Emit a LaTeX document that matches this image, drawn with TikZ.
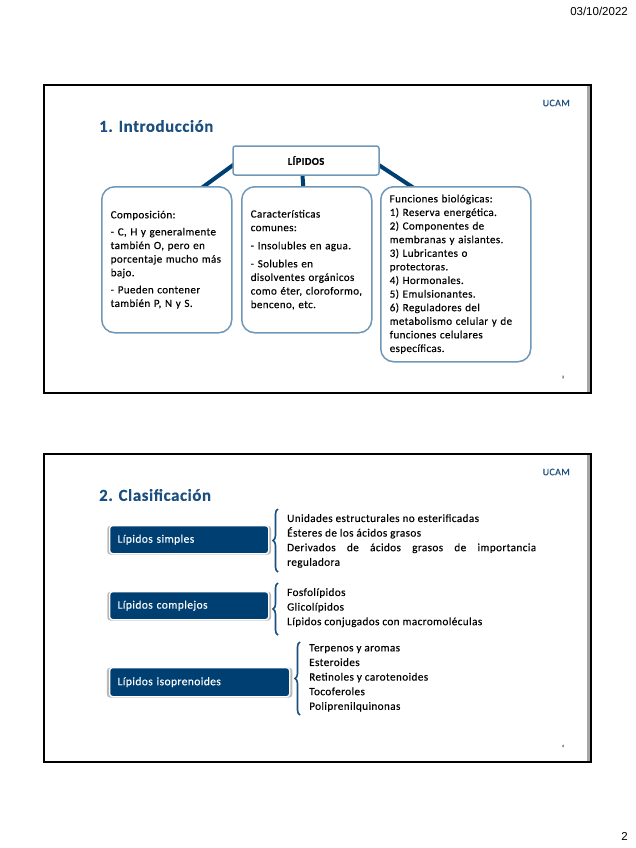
\documentclass[tikz,border=0pt]{standalone}
\usepackage{fontspec}
\setmainfont{Carlito}[LetterSpace=3.5, FakeBold=0.25]
\newfontfamily\datefont{Liberation Sans}
\usetikzlibrary{decorations.pathreplacing,shadows,backgrounds}
\definecolor{ucamblue}{HTML}{1B4F80}
\definecolor{boxblue}{HTML}{003F72}
\definecolor{boxline}{HTML}{6F97B8}
\tikzset{
	titletext/.style={anchor=west, inner sep=0pt, text=ucamblue, font=\fontsize{16.8}{18}\selectfont\bfseries},
	logotext/.style={anchor=east, inner sep=0pt, text=ucamblue, font=\fontsize{10}{10}\selectfont},
	pagetext/.style={inner sep=0pt, text=gray, font=\fontsize{4}{4}\selectfont},
	infobox/.style={draw=boxline, line width=1.5pt, fill=white, rounded corners=13pt, anchor=north west, align=left, inner xsep=9pt, inner ysep=0pt, font=\fontsize{11}{13.6}\selectfont},
	lipbox/.style={draw=boxline, line width=1.5pt, fill=white, rounded corners=2.5pt, font=\fontsize{10.5}{12}\selectfont\bfseries},
	classbox/.style={fill=boxblue, draw=white, line width=1.3pt, rounded corners=3pt, anchor=north west, align=left, inner xsep=8pt, inner ysep=0pt, text=white, font=\fontsize{11.5}{12}\selectfont, drop shadow={shadow scale=1.03, shadow xshift=0pt, shadow yshift=-0.5pt, opacity=0.45, fill=black!60}},
	listtext/.style={anchor=north west, align=left, inner sep=0pt, font=\fontsize{11.2}{14.6}\selectfont},
	linkline/.style={draw=boxblue, line width=4pt, shorten >=-4pt, shorten <=-4pt},
	bracket/.style={draw=ucamblue, line width=1.6pt, decorate, decoration={brace, amplitude=5pt}},
	slideframe/.style={draw=black, line width=1.6pt}
}
\begin{document}
\begin{tikzpicture}[x=1pt, y=-1pt]
	\useasboundingbox (0,0) rectangle (636,848);
	\node[anchor=east, inner sep=0pt, font=\datefont\fontsize{11.5}{14}\selectfont] (date) at (628,11) {03/10/2022};
	\node[anchor=east, inner sep=0pt, font=\datefont\fontsize{11.5}{14}\selectfont] (pagenum) at (628,836) {2};

	\fill[gray!70] (587,85) rectangle (592,393);
	\draw[slideframe] (44,85) rectangle (591,393);
	\node[titletext] (titleA) at (99,126) {1. Introducción};
	\node[logotext] (logoA) at (570,103) {UCAM};
	\node[pagetext] (slideA) at (563,377) {3};

	\node[lipbox, minimum width=146pt, minimum height=29pt] (lipidos) at (306,160.5) {LÍPIDOS};
	\node[infobox, minimum width=130pt, minimum height=146pt, text width=112pt] (comp) at (101,186) {Composición:\\[3.5pt]- C, H y generalmente\\también O, pero en\\porcentaje mucho más\\bajo.\\[3.5pt]- Pueden contener\\también P, N y S.};
	\node[infobox, minimum width=130pt, minimum height=146pt, text width=112pt] (carac) at (241,186) {Características\\comunes:\\[4.5pt]- Insolubles en agua.\\[4.5pt]- Solubles en\\disolventes orgánicos\\como éter, cloroformo,\\benceno, etc.};
	\node[infobox, minimum width=150pt, minimum height=175pt, text width=132pt] (func) at (380,186) {Funciones biológicas:\\1) Reserva energética.\\2) Componentes de\\membranas y aislantes.\\3) Lubricantes o\\protectoras.\\4) Hormonales.\\5) Emulsionantes.\\6) Reguladores del\\metabolismo celular y de\\funciones celulares\\específicas.};
	\begin{scope}[on background layer]
		\fill[white] (0,0) rectangle (636,848);
		\draw[linkline] (lipidos.184) -- (comp.63);
		\draw[linkline] ([xshift=-3.5pt]lipidos.south) -- ([xshift=-3.5pt]carac.north);
		\draw[linkline] (lipidos.-4) -- (func.117);
	\end{scope}

	\fill[gray!70] (587,454) rectangle (592,762);
	\draw[slideframe] (44,454) rectangle (591,762);
	\node[titletext] (titleB) at (99,495) {2. Clasificación};
	\node[logotext] (logoB) at (570,472) {UCAM};
	\node[pagetext] (slideB) at (563,746) {4};

	\node[classbox, minimum height=28pt, text width=143pt] (simples) at (109,525) {Lípidos simples};
	\node[classbox, minimum height=28pt, text width=143pt] (complejos) at (109,591) {Lípidos complejos};
	\node[classbox, minimum height=29pt, text width=164pt] (isopren) at (109,667) {Lípidos isoprenoides};

	\node[listtext] (listA) at (287,514) {Unidades estructurales no esterificadas\\Ésteres de los ácidos grasos\\\makebox[249pt][s]{Derivados de ácidos grasos de importancia}\\reguladora};
	\node[listtext] (listB) at (287,588) {Fosfolípidos\\Glicolípidos\\Lípidos conjugados con macromoléculas};
	\node[listtext] (listC) at (309,644) {Terpenos y aromas\\Esteroides\\Retinoles y carotenoides\\Tocoferoles\\Poliprenilquinonas};

	\coordinate (braceAtop) at (278,509);
	\coordinate (braceAbot) at (278,572);
	\coordinate (braceBtop) at (278,583);
	\coordinate (braceBbot) at (278,635);
	\coordinate (braceCtop) at (300,642);
	\coordinate (braceCbot) at (300,715);
	\draw[bracket] (braceAbot) -- (braceAtop);
	\draw[bracket] (braceBbot) -- (braceBtop);
	\draw[bracket] (braceCbot) -- (braceCtop);
\end{tikzpicture}
\end{document}
